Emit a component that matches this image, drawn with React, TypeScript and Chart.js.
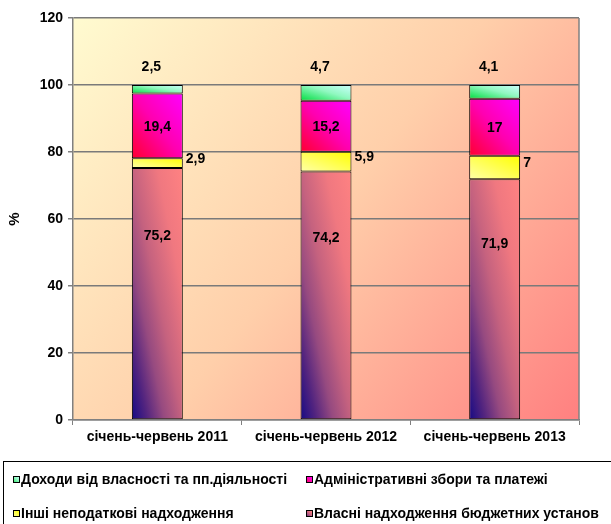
import React, { useEffect, useRef } from 'react';
import { Chart, registerables } from 'chart.js';

Chart.register(...registerables);

const categories = ['січень-червень 2011', 'січень-червень 2012', 'січень-червень 2013'];
const ownBudgetRevenue = [75.2, 74.2, 71.9];
const otherNonTax = [2.9, 5.9, 7];
const adminFees = [19.4, 15.2, 17];
const propertyIncome = [2.5, 4.7, 4.1];
const seriesLabels = [
  'Власні надходження бюджетних установ',
  'Інші неподаткові надходження',
  'Адміністративні збори та платежі',
  'Доходи від власності та пп.діяльності',
];
const yTicks = [0, 20, 40, 60, 80, 100, 120];
const yTitle = '%';

const FONT = "'Liberation Sans', Arial, sans-serif";
const BAR_FRAC = 0.302;

type Stop = [number, string];
const seriesStops: Stop[][] = [
  [[0, '#150A85'], [0.15, '#50237F'], [0.32, '#964A80'], [0.5, '#C5627F'], [0.75, '#F07880'], [1, '#FF8282']],
  [[0, '#FFFFA8'], [1, '#FFFF00']],
  [[0, '#FF0030'], [0.5, '#FF00B0'], [1, '#FF00FF']],
  [[0, '#00DD40'], [0.55, '#90F8C0'], [1, '#CCFFFF']],
];

function diagGradient(ctx: CanvasRenderingContext2D, x0: number, yT: number, x1: number, yB: number, stops: Stop[]) {
  const w = Math.max(1, x1 - x0);
  const h = Math.max(1, yB - yT);
  const k = (2 * w * h) / (h * h + w * w);
  const g = ctx.createLinearGradient(x0, yB, x0 + h * k, yB - w * k);
  stops.forEach(([o, c]) => g.addColorStop(o, c));
  return g;
}

const dataArrays = [ownBudgetRevenue, otherNonTax, adminFees, propertyIncome];

function barFill(di: number) {
  return (c: any) => {
    const chart = c.chart;
    const area = chart.chartArea;
    const stops = seriesStops[di];
    if (c.type !== 'data' || !area || !chart.scales.x || !chart.scales.y) return stops[stops.length - 1][1];
    const i = c.dataIndex;
    const xs = chart.scales.x;
    const ys = chart.scales.y;
    const cx = xs.getPixelForValue(i);
    const bw = ((area.right - area.left) / categories.length) * BAR_FRAC;
    let base = 0;
    for (let k = 0; k < di; k++) base += dataArrays[k][i];
    const yB = ys.getPixelForValue(base);
    const yT = ys.getPixelForValue(base + dataArrays[di][i]);
    return diagGradient(chart.ctx, cx - bw / 2, yT, cx + bw / 2, yB, stops);
  };
}

const bgPlugin = {
  id: 'bgPlugin',
  beforeDraw(chart: any) {
    const { ctx, chartArea: a, width, height } = chart;
    ctx.save();
    ctx.fillStyle = '#ffffff';
    ctx.fillRect(0, 0, width, height);
    const g = ctx.createLinearGradient(a.left, a.top, a.right, a.bottom);
    g.addColorStop(0, '#FFFBD0');
    g.addColorStop(0.5, '#FFCFAA');
    g.addColorStop(1, '#FF8080');
    ctx.fillStyle = g;
    ctx.fillRect(a.left, a.top, a.right - a.left, a.bottom - a.top);
    ctx.restore();
  },
  beforeDatasetsDraw(chart: any) {
    const { ctx, chartArea: a } = chart;
    ctx.save();
    ctx.strokeStyle = '#808080';
    ctx.lineWidth = 1.5;
    ctx.beginPath();
    ctx.moveTo(a.right, a.top);
    ctx.lineTo(a.right, a.bottom);
    ctx.stroke();
    ctx.restore();
  },
};

const labelPlugin = {
  id: 'labelPlugin',
  afterDatasetsDraw(chart: any) {
    const ctx = chart.ctx;
    ctx.save();
    ctx.font = `bold 14px ${FONT}`;
    ctx.fillStyle = '#000';
    chart.data.datasets.forEach((ds: any, di: number) => {
      const meta = chart.getDatasetMeta(di);
      meta.data.forEach((el: any, i: number) => {
        const v = ds.data[i];
        const txt = String(v).replace('.', ',');
        const { x, y, base, width } = el.getProps(['x', 'y', 'base', 'width'], true);
        if (di === 0) {
          ctx.textAlign = 'center';
          ctx.textBaseline = 'middle';
          ctx.fillText(txt, x, base - (base - y) * 0.73);
        } else if (di === 1) {
          ctx.textAlign = 'left';
          ctx.textBaseline = 'middle';
          ctx.fillText(txt, x + width / 2 + 3, (y + base) / 2 - 4);
        } else if (di === 2) {
          ctx.textAlign = 'center';
          ctx.textBaseline = 'middle';
          ctx.fillText(txt, x, (y + base) / 2 + 1);
        } else {
          ctx.textAlign = 'center';
          ctx.textBaseline = 'middle';
          ctx.fillText(txt, x - 6, y - 18);
        }
      });
    });
    ctx.restore();
  },
};

const legendPlugin = {
  id: 'boxLegend',
  afterDraw(chart: any) {
    const ctx = chart.ctx;
    ctx.save();
    ctx.strokeStyle = '#000';
    ctx.lineWidth = 1;
    ctx.strokeRect(3.5, 461.5, 640, 100);
    ctx.font = `bold 14px ${FONT}`;
    ctx.textBaseline = 'middle';
    ctx.textAlign = 'left';
    const order = [3, 2, 1, 0];
    const colX = [13, 306];
    const rowY = [480, 514];
    order.forEach((di, k) => {
      const x = colX[k % 2];
      const y = rowY[Math.floor(k / 2)];
      const stops = seriesStops[di];
      const g = ctx.createLinearGradient(x, y + 4, x + 7, y - 4);
      stops.forEach(([o, c]: Stop) => g.addColorStop(o, c));
      ctx.fillStyle = g;
      ctx.fillRect(x + 0.5, y - 3.5, 6, 6);
      ctx.strokeStyle = '#000';
      ctx.strokeRect(x + 0.5, y - 3.5, 6, 6);
      ctx.fillStyle = '#000';
      ctx.fillText(chart.data.datasets[di].label, x + 8, y);
    });
    ctx.restore();
  },
};

export default function App() {
  const ref = useRef<HTMLCanvasElement | null>(null);
  useEffect(() => {
    if (!ref.current) return;
    const tickFont = { family: FONT, weight: 'bold' as const, size: 14 };
    const chart = new Chart(ref.current, {
      type: 'bar',
      data: {
        labels: categories,
        datasets: dataArrays.map((arr, di) => ({
          label: seriesLabels[di],
          data: arr,
          backgroundColor: barFill(di),
          borderColor: '#000',
          borderWidth: 1,
          borderSkipped: false,
          barPercentage: BAR_FRAC,
          categoryPercentage: 1,
        })),
      },
      options: {
        responsive: false,
        animation: false,
        devicePixelRatio: 1,
        layout: { padding: { top: 18, right: 32, left: 0, bottom: 0 } },
        plugins: { legend: { display: false }, tooltip: { enabled: false } },
        scales: {
          x: {
            stacked: true,
            grid: { drawOnChartArea: false, drawTicks: true, tickLength: 5, color: '#808080', offset: true },
            border: { color: '#808080', width: 1.5 },
            ticks: { color: '#000', font: tickFont, padding: 4, maxRotation: 0 },
            afterFit: (s: any) => { s.height = 104; },
          },
          y: {
            stacked: true,
            min: 0,
            max: 120,
            afterBuildTicks: (s: any) => { s.ticks = yTicks.map((v) => ({ value: v })); },
            ticks: { color: '#000', font: tickFont, padding: 5 },
            grid: { color: '#7a7a7a', lineWidth: 1.5, tickLength: 5, tickColor: '#808080' },
            border: { color: '#808080', width: 1.5 },
            title: { display: true, text: yTitle, color: '#000', font: { family: FONT, weight: 'bold' as const, size: 15 }, padding: { top: 6, bottom: 0 } },
            afterFit: (s: any) => { s.width = 73; },
          },
        },
      },
      plugins: [bgPlugin, labelPlugin, legendPlugin],
    });
    return () => chart.destroy();
  }, []);
  return (
    <div style={{ position: 'absolute', left: 0, top: 0, width: 611, height: 524, background: '#fff' }}>
      <canvas ref={ref} width={611} height={524} style={{ display: 'block' }} />
    </div>
  );
}
